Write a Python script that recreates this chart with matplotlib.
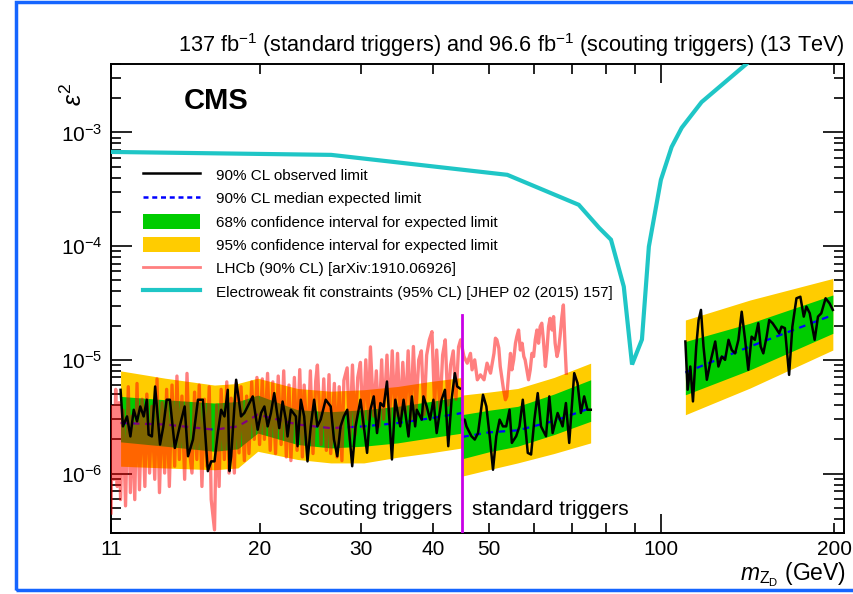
import matplotlib
matplotlib.use("Agg")
import matplotlib.pyplot as plt
from matplotlib.lines import Line2D
from matplotlib.patches import Patch, Rectangle
import numpy as np

plt.rcParams['font.family'] = ['Liberation Sans', 'DejaVu Sans']
plt.rcParams['mathtext.fontset'] = 'custom'
plt.rcParams['mathtext.rm'] = 'Liberation Sans'
plt.rcParams['mathtext.it'] = 'Liberation Sans:italic'

# ---------------- data (epsilon^2 values in units of 1e-6) ----------------
# expected-limit bands, scouting-trigger region
scout_bx = [11.43, 13.66, 16.66, 18.3, 19.81, 23.24, 26.55, 30.32, 34.71, 39.55, 45.0]
scout_95lo = [1.16, 1.12, 1.08, 1.12, 1.57, 1.33, 1.24, 1.24, 1.39, 1.52, 1.68]
scout_68lo = [1.90, 1.74, 1.57, 1.65, 2.27, 1.80, 1.68, 1.74, 1.86, 2.06, 2.27]
scout_med = [2.78, 2.70, 2.43, 2.60, 3.30, 2.70, 2.51, 2.60, 2.78, 3.06, 3.41]
scout_68hi = [4.77, 4.46, 4.17, 4.30, 4.90, 3.64, 3.50, 3.64, 3.90, 4.30, 4.77]
scout_95hi = [8.00, 6.90, 6.00, 6.20, 6.90, 5.60, 5.30, 5.46, 5.83, 6.45, 7.00]

# expected-limit bands, standard-trigger region
std_bx = [45.0, 50.0, 56.2, 65.0, 75.3]
std_95lo = [0.95, 1.08, 1.24, 1.50, 1.86]
std_68lo = [1.35, 1.55, 1.74, 2.20, 2.88]
std_med = [2.10, 2.30, 2.40, 2.90, 3.77]
std_68hi = [3.30, 3.60, 3.90, 5.00, 6.68]
std_95hi = [4.90, 5.20, 5.60, 7.00, 9.35]

# expected-limit bands, high-mass region
high_bx = [110.1, 142.7, 198.9]
high_95lo = [3.29, 5.65, 12.2]
high_68lo = [4.93, 8.17, 17.1]
high_med = [7.74, 13.1, 24.8]
high_68hi = [14.5, 21.0, 37.2]
high_95hi = [22.4, 33.6, 52.0]

# observed limit
obs_scout_x = [11.43, 11.54, 11.73, 11.89, 12.05, 12.21, 12.37, 12.54, 12.70, 12.79,
               12.96, 13.13, 13.39, 13.57, 13.75, 13.93, 14.21, 14.49, 14.78, 14.98,
               15.28, 15.59, 15.90, 16.22, 16.44, 16.66, 16.88, 17.11, 17.34, 17.57,
               17.69, 17.81, 18.17, 18.53, 18.78, 19.16, 19.42, 19.81, 20.08, 20.35,
               20.62, 20.89, 21.17, 21.60, 21.89, 22.18, 22.33, 22.63, 23.09, 23.24,
               23.55, 23.87, 24.19, 24.51, 24.84, 25.17, 25.51, 26.02, 26.55, 26.90,
               27.26, 27.62, 27.99, 28.37, 28.94, 29.33, 29.92, 30.32, 30.72, 31.13,
               31.55, 31.97, 32.40, 32.83, 33.27, 33.94, 34.40, 35.09, 35.56, 36.27,
               36.76, 37.25, 37.50, 38.25, 38.51, 39.02, 39.55, 40.08, 40.61, 41.42,
               41.98, 42.54, 43.11, 43.68, 44.09, 44.6]
obs_scout_y = [5.45, 2.60, 3.18, 2.12, 3.64, 2.88, 3.89, 3.18, 4.46, 2.20,
               2.12, 5.83, 1.80, 2.60, 4.46, 4.46, 1.68, 2.60, 3.89, 1.42,
               1.99, 4.46, 4.46, 1.05, 1.28, 1.28, 2.27, 3.64, 3.18, 5.45,
               1.05, 1.42, 6.68, 3.18, 3.41, 4.17, 4.77, 2.43, 3.41, 3.89,
               2.60, 3.41, 5.10, 2.51, 4.30, 2.98, 2.12, 3.64, 3.18, 1.74,
               4.46, 3.18, 1.28, 2.60, 4.46, 2.60, 3.00, 4.46, 3.89, 1.99,
               1.42, 2.60, 3.18, 3.64, 1.16, 2.60, 4.46, 2.60, 1.52, 3.64,
               4.77, 2.27, 4.17, 3.89, 6.45, 1.33, 4.46, 2.60, 4.46, 2.12,
               4.77, 2.60, 3.64, 2.98, 4.77, 3.89, 2.98, 4.46, 2.27, 4.46,
               5.45, 1.74, 4.46, 7.64, 5.83, 5.60]
obs_std_x = [45.0, 45.45, 45.76, 46.68, 47.31, 47.94, 48.9, 49.56, 50.23, 50.9,
             51.58, 52.27, 52.97, 53.67, 54.39, 54.9, 55.86, 56.6, 57.36, 58.52,
             59.3, 60.09, 60.9, 61.71, 62.96, 63.8, 64.65, 65.96, 67.29, 68.19,
             69.1, 70.5, 71.44, 72.4, 73.37, 74.35, 75.34]
obs_std_y = [2.98, 2.98, 2.60, 2.13, 1.99, 2.27, 4.93, 3.90, 2.13, 1.08,
             2.13, 2.98, 2.60, 2.60, 3.64, 1.86, 2.13, 2.60, 4.46, 1.52,
             1.47, 2.98, 5.10, 2.60, 2.13, 4.77, 2.27, 3.41, 2.60, 4.17,
             1.86, 7.64, 6.24, 3.41, 4.77, 3.64, 3.64]
obs_high_x = [110.1, 111.1, 112.3, 113.5, 115.0, 116.1, 117.2, 118.4, 120.0, 121.6,
              124.1, 125.7, 127.4, 129.1, 130.9, 132.6, 134.4, 136.2, 138.0, 139.9,
              141.7, 143.6, 145.5, 147.5, 148.9, 150.5, 152.5, 154.1, 156.2, 158.3,
              160.4, 161.9, 164.1, 166.9, 169.1, 171.9, 174.6, 177.0, 178.9, 181.3,
              184.9, 187.4, 189.9, 193.2, 196.3, 198.9]
obs_high_y = [14.5, 5.46, 8.74, 4.31, 13.1, 22.4, 27.5, 13.1, 6.68, 9.35,
              14.5, 8.74, 10.7, 10.0, 15.0, 12.2, 11.4, 15.0, 26.5, 15.0,
              8.17, 16.0, 15.0, 21.0, 13.1, 11.4, 16.0, 22.4, 21.0, 19.0,
              17.1, 19.6, 19.0, 7.38, 19.6, 34.8, 35.9, 24.0, 29.4, 25.7,
              15.0, 24.0, 25.7, 34.8, 31.4, 27.5]

# LHCb 90% CL limit
lhcb_x = [11.0, 11.06, 11.13, 11.21, 11.28, 11.36, 11.43, 11.54, 11.66, 11.79,
          11.89, 11.98, 12.10, 12.21, 12.33, 12.46, 12.60, 12.70, 12.84, 12.96,
          13.11, 13.23, 13.36, 13.50, 13.64, 13.75, 13.90, 14.05, 14.20, 14.33,
          14.47, 14.62, 14.78, 14.92, 15.06, 15.22, 15.38, 15.52, 15.67, 15.84,
          16.00, 16.16, 16.31, 16.44, 16.66, 16.81, 16.97, 17.11, 17.33, 17.50,
          17.66, 17.81, 18.04, 18.17, 18.38, 18.53, 18.78, 18.95, 19.13, 19.34,
          19.54, 19.75, 19.96, 20.18, 20.35, 20.61, 20.83, 21.05, 21.28, 21.51,
          21.76, 21.99, 22.22, 22.46, 22.63, 22.95, 23.20, 23.45, 23.70, 23.87,
          24.21, 24.47, 24.73, 25.00, 25.17, 25.54, 25.82, 26.09, 26.37, 26.55,
          26.94, 27.23, 27.47, 27.77, 27.99, 28.36, 28.66, 28.97, 29.28, 29.59,
          29.91, 30.23, 30.56, 30.88, 31.13, 31.55, 31.88, 32.22, 32.57, 32.83,
          33.27, 33.62, 33.98, 34.35, 34.71, 35.08, 35.45, 35.83, 36.22, 36.60,
          36.99, 37.39, 37.79, 38.19, 38.60, 39.01, 39.43, 39.85, 40.28, 40.61,
          41.14, 41.59, 42.03, 42.48, 42.94, 43.40, 43.87, 44.34,
          44.7, 45.3, 45.9, 46.5, 46.8, 47.3, 47.8, 48.4, 49.1, 49.7,
          50.4, 51.1, 51.4, 51.7, 52.1, 52.4, 52.8, 53.1, 53.5, 53.8,
          54.2, 54.6, 54.9, 55.3, 55.7, 56.0, 56.4, 56.8, 57.2, 57.6,
          57.9, 58.3, 58.7, 59.1, 59.5, 59.9, 60.3, 60.7, 61.1, 61.5,
          61.9, 62.3, 62.8, 63.2, 63.6, 64.0, 64.5, 64.9, 65.3, 65.8,
          66.2, 66.6, 67.1, 67.5, 68.0, 68.3]
lhcb_y = [0.45, 3.9, 0.89, 5.5, 0.77, 4.2, 0.59, 3.6, 0.52, 5.8,
          0.68, 3.2, 0.59, 6.2, 0.72, 4.5, 0.77, 5.0, 1.01, 3.9,
          0.89, 6.8, 0.68, 4.2, 1.01, 5.5, 0.77, 6.0, 1.16, 7.2,
          1.33, 4.8, 0.89, 7.6, 1.62, 1.01, 5.2, 1.33, 6.0, 0.77,
          4.5, 1.16, 5.8, 0.59, 0.32, 4.0, 0.77, 5.5, 1.33, 6.4,
          1.01, 4.6, 1.01, 6.2, 1.52, 5.8, 1.30, 4.8, 1.50, 6.4,
          2.0, 7.0, 1.8, 6.8, 2.0, 7.6, 1.6, 6.4, 1.5, 7.2,
          1.8, 8.0, 1.4, 6.0, 1.3, 7.0, 1.6, 8.2, 1.4, 6.0,
          1.7, 8.0, 1.5, 6.5, 9.0, 1.8, 6.8, 1.6, 7.4, 1.5,
          6.2, 1.4, 5.8, 1.3, 6.6, 8.5, 2.0, 9.0, 2.2, 7.0,
          9.5, 2.5, 10.0, 3.0, 13.0, 3.2, 8.0, 2.6, 10.0, 3.0,
          11.0, 2.8, 12.0, 3.2, 11.4, 2.9, 9.5, 3.4, 12.0, 3.0,
          13.1, 3.6, 10.0, 12.0, 3.3, 11.0, 15.0, 17.7, 3.8, 12.2,
          3.5, 11.0, 15.0, 4.0, 9.0, 12.0, 4.5, 13.0,
          15.0, 10.7, 9.35, 11.4, 8.17, 10.0, 6.68, 7.38, 6.68, 9.35,
          7.64, 11.4, 15.5, 15.0, 12.7, 8.74, 6.68, 5.46, 4.46, 4.77,
          7.64, 11.4, 8.17, 10.0, 14.0, 16.0, 18.3, 12.2, 14.0, 10.7,
          10.0, 8.17, 6.68, 8.17, 11.4, 10.7, 15.0, 18.3, 14.0, 19.6,
          21.0, 15.0, 8.74, 12.2, 19.6, 23.2, 18.3, 24.0, 14.0, 10.7,
          12.2, 16.0, 24.0, 30.4, 12.2, 7.64]

# electroweak fit constraint (absolute epsilon^2)
ew_x = [11.0, 26.6, 53.9, 71.8, 77.9, 81.7, 86.0, 88.9, 92.5, 95.1,
        99.8, 104.2, 108.5, 117.5, 140.6]
ew_y = [6.74e-4, 6.35e-4, 4.24e-4, 2.31e-4, 1.45e-4, 1.14e-4, 4.41e-5, 9.1e-6, 1.51e-5, 9.9e-5,
        3.83e-4, 7.46e-4, 1.1e-3, 1.85e-3, 4.0e-3]

trigger_boundary = 45.0
xtick_major = [100]
xtick_major_labels = ['100']
xtick_minor = [11, 20, 30, 40, 50, 60, 70, 80, 90, 200]
xtick_minor_labels = ['11', '20', '30', '40', '50', '', '', '', '', '200']

legend_labels = ['90% CL observed limit',
                 '90% CL median expected limit',
                 '68% confidence interval for expected limit',
                 '95% confidence interval for expected limit',
                 'LHCb (90% CL) [arXiv:1910.06926]',
                 'Electroweak fit constraints (95% CL) [JHEP 02 (2015) 157]']

# ---------------- styles ----------------
YELLOW = '#ffcc00'
GREEN = '#00cc00'
BLUE = '#0000ff'
CYAN = '#1fc6c6'
MAGENTA = '#c800e6'
SCALE = 1e-6

fig = plt.figure(figsize=(8.54, 5.94), dpi=100)
ax = fig.add_axes([111/854, 1-533/594, 733/854, 469/594])
ax.set_xscale('log')
ax.set_yscale('log')

regions = [
    (scout_bx, scout_95lo, scout_68lo, scout_med, scout_68hi, scout_95hi),
    (std_bx, std_95lo, std_68lo, std_med, std_68hi, std_95hi),
    (high_bx, high_95lo, high_68lo, high_med, high_68hi, high_95hi),
]
for bx, lo95, lo68, med, hi68, hi95 in regions:
    bx = np.array(bx)
    ax.fill_between(bx, np.array(lo95)*SCALE, np.array(hi95)*SCALE, color=YELLOW, lw=0, zorder=1)
    ax.fill_between(bx, np.array(lo68)*SCALE, np.array(hi68)*SCALE, color=GREEN, lw=0, zorder=2)
    ax.plot(bx, np.array(med)*SCALE, color=BLUE, lw=1.6, ls=(0, (3, 2.5)), zorder=3)

ax.plot(lhcb_x, np.array(lhcb_y)*SCALE, color='red', alpha=0.5, lw=2.4, zorder=4)

for ox, oy in [(obs_scout_x, obs_scout_y), (obs_std_x, obs_std_y), (obs_high_x, obs_high_y)]:
    ax.plot(ox, np.array(oy)*SCALE, color='black', lw=1.8, zorder=5)

ax.plot(ew_x, ew_y, color=CYAN, lw=3, zorder=6, solid_joinstyle='miter')

ax.plot([trigger_boundary, trigger_boundary], [1e-7, 2.5e-5], color=MAGENTA, lw=2, zorder=7)

ax.set_xlim(11, 208)
ax.set_ylim(3e-7, 4e-3)

ax.set_xticks(xtick_major, labels=xtick_major_labels)
ax.set_xticks(xtick_minor, labels=xtick_minor_labels, minor=True)
ax.tick_params(which='both', direction='in', top=True, right=True, labelsize=15, width=1.2)
ax.tick_params(axis='x', which='major', length=14, pad=5)
ax.tick_params(axis='x', which='minor', length=7, pad=5)
ax.tick_params(axis='y', which='major', length=15, pad=6)
ax.tick_params(axis='y', which='minor', length=7.5)
for s in ax.spines.values():
    s.set_linewidth(1.4)

# texts
ax.text(0.099, 0.95, 'CMS', transform=ax.transAxes, fontsize=21, fontweight='bold',
        ha='left', va='top')
ax.annotate('scouting triggers', xy=(trigger_boundary, 0), xycoords=('data', 'axes fraction'),
            xytext=(-7, 10), textcoords='offset points', ha='right', va='bottom', fontsize=15)
ax.annotate('standard triggers', xy=(trigger_boundary, 0), xycoords=('data', 'axes fraction'),
            xytext=(7, 10), textcoords='offset points', ha='left', va='bottom', fontsize=15)

fig.text(845/854, 1-45/594,
         r'137 fb$^{-1}$ (standard triggers) and 96.6 fb$^{-1}$ (scouting triggers) (13 TeV)',
         ha='right', va='center', fontsize=15.7)
fig.text(74/854, 1-94/594, r'$\varepsilon^{2}$', rotation=90, ha='center', va='center',
         fontsize=18, family='DejaVu Sans')
fig.text(846/854, 1-580/594, r'$m_{\mathregular{Z_D}}$ (GeV)', ha='right', va='baseline', fontsize=16.5)

handles = [Line2D([], [], color='black', lw=1.8),
           Line2D([], [], color=BLUE, lw=1.8, ls=(0, (2, 1.5))),
           Patch(facecolor=GREEN, edgecolor='none'),
           Patch(facecolor=YELLOW, edgecolor='none'),
           Line2D([], [], color='red', alpha=0.5, lw=2),
           Line2D([], [], color=CYAN, lw=3)]
leg = ax.legend(handles, legend_labels, loc='upper left',
                bbox_to_anchor=((143-111)/733, (533-167)/469), frameon=False,
                fontsize=11, handlelength=3.7, handleheight=1.15, handletextpad=1.05,
                labelspacing=0.5, borderpad=0, borderaxespad=0)

fig.patches.append(Rectangle((16/854, 4/594), 1.2, 588/594, transform=fig.transFigure,
                             fill=False, edgecolor='#1565ff', lw=2.5, zorder=10))

fig.savefig('out.png', dpi=100)
